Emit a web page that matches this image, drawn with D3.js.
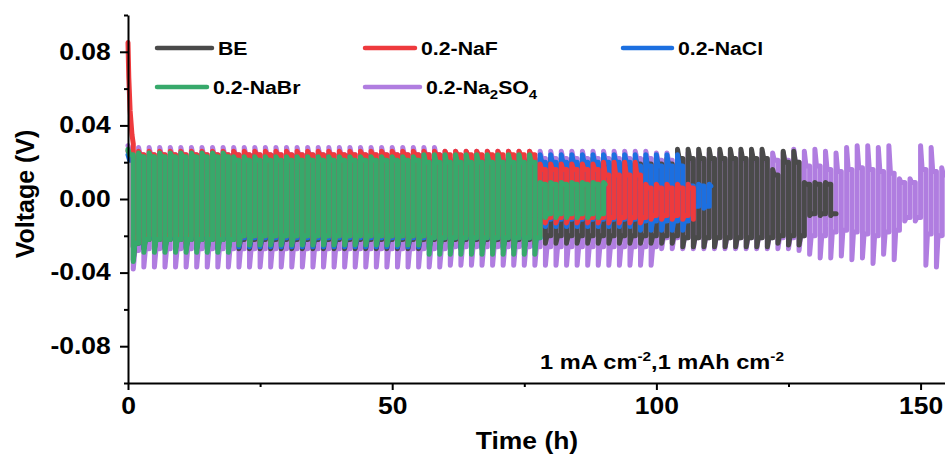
<!DOCTYPE html>
<html>
<head>
<meta charset="utf-8">
<script src="https://cdn.jsdelivr.net/npm/d3@7"></script>
<style>
  body { margin: 0; background: #fff; }
  svg { display: block; font-family: "Liberation Sans", Arial, sans-serif; font-weight: bold; }
</style>
</head>
<body>
<svg id="chart" width="945" height="459"></svg>
<script>
// ---- data ----
// each row covers a run of similar cycles (2 h per cycle: 1 h plating + 1 h stripping)
// [from h, to h, charge peak V, charge plateau V, discharge peak V, discharge plateau V]
const beCycles = [
  [0, 2, 0.026, 0.023, -0.033, -0.024],
  [2, 76, 0.024, 0.021, -0.027, -0.022],
  [76, 104, 0.022, 0.019, -0.024, -0.02],
  [104, 122, 0.027, 0.022, -0.026, -0.021],
  [122, 124, 0.016, 0.013, -0.024, -0.02],
  [124, 128, 0.026, 0.02, -0.025, -0.02],
  [128, 134, 0.009, 0.008, -0.009, -0.008]
]
const nafCycles = [
  [0, 2, 0.03, 0.027, -0.026, -0.021],
  [2, 78, 0.026, 0.024, -0.024, -0.02],
  [78, 90, 0.019, 0.016, -0.013, -0.01],
  [90, 98, 0.02, 0.013, -0.013, -0.01],
  [98, 107, 0.008, 0.006, -0.011, -0.009]
]
// first hour of 0.2-NaF: nucleation spike [h, V]
const nafSpike = [[0, 0.085], [0.15, 0.066], [0.4, 0.048], [0.75, 0.035], [1, 0.03]]
const naclCycles = [
  [0, 78, 0.024, 0.021, -0.026, -0.021],
  [78, 96, 0.024, 0.02, -0.015, -0.011],
  [96, 106, 0.024, 0.018, -0.017, -0.012],
  [106, 110.7, 0.008, 0.007, -0.005, -0.004]
]
const nabrCycles = [
  [0, 2, 0.027, 0.024, -0.034, -0.024],
  [2, 20, 0.025, 0.023, -0.029, -0.022],
  [20, 56, 0.023, 0.021, -0.025, -0.02],
  [56, 78, 0.024, 0.02, -0.03, -0.021],
  [78, 90.3, 0.009, 0.008, -0.01, -0.008]
]
const na2so4Cycles = [
  [0, 2, 0.029, 0.026, -0.038, -0.028],
  [2, 60, 0.028, 0.024, -0.037, -0.027],
  [60, 100, 0.026, 0.022, -0.036, -0.026],
  [100, 126, 0.025, 0.021, -0.027, -0.021],
  [126, 128, 0.027, 0.02, -0.028, -0.02],
  [128, 130, 0.026, 0.018, -0.03, -0.02],
  [130, 132, 0.027, 0.018, -0.032, -0.02],
  [132, 134, 0.026, 0.016, -0.032, -0.018],
  [134, 136, 0.025, 0.015, -0.031, -0.017],
  [136, 138, 0.028, 0.016, -0.033, -0.018],
  [138, 140, 0.029, 0.017, -0.032, -0.019],
  [140, 142, 0.029, 0.016, -0.035, -0.02],
  [142, 144, 0.028, 0.015, -0.03, -0.018],
  [144, 146, 0.029, 0.014, -0.033, -0.017],
  [146, 150, 0.011, 0.009, -0.012, -0.01],
  [150, 152, 0.029, 0.016, -0.036, -0.019],
  [152, 154, 0.028, 0.015, -0.037, -0.02],
  [154, 155, 0.017, 0.013, -0.02, -0.015]
]
const xMajor = [0, 50, 100, 150]
const xMinor = [25, 75, 125]
const yMajor = [-0.08, -0.04, 0, 0.04, 0.08]
const yMinor = [-0.1, -0.06, -0.02, 0.02, 0.06, 0.1]

// ---- layout ----
const svg = d3.select('#chart')
const m = { left: 128, right: 947, top: 15, bottom: 383 }
const x = d3.scaleLinear().domain([0, 155]).range([m.left, m.right])
const y = d3.scaleLinear().domain([-0.1, 0.1]).range([m.bottom, m.top])
const stretch = 1.15

function cycleTrace(rows) {
  const pts = []
  rows.forEach(([t0, t1, upPk, upPl, loPk, loPl]) => {
    d3.range(t0, t1, 2).forEach(c => {
      pts.push([c, upPk], [c + 0.3, upPl], [c + 1, upPl], [c + 1, loPk], [c + 1.3, loPl], [c + 2, loPl])
    })
  })
  const end = rows[rows.length - 1][1]
  return pts.filter(p => p[0] <= end)
}

const traces = [
  { key: '0.2-Na2SO4', color: '#b07de0', pts: cycleTrace(na2so4Cycles) },
  { key: 'BE', color: '#4a4a4a', pts: cycleTrace(beCycles) },
  { key: '0.2-NaCl', color: '#1c6fe0', pts: cycleTrace(naclCycles) },
  { key: '0.2-NaF', color: '#ee3a3d', pts: nafSpike.concat(cycleTrace(nafCycles).slice(3)) },
  { key: '0.2-NaBr', color: '#37a96b', pts: cycleTrace(nabrCycles) }
]

const line = d3.line().x(d => x(d[0])).y(d => y(d[1]))

svg.append('g')
  .selectAll('path')
  .data(traces)
  .join('path')
  .attr('d', d => line(d.pts))
  .attr('fill', 'none')
  .attr('stroke', d => d.color)
  .attr('stroke-width', 5)
  .attr('stroke-linejoin', 'round')
  .attr('stroke-linecap', 'round')

// ---- axes ----
function styleAxis(g) {
  g.selectAll('path, line').attr('stroke', '#000').attr('stroke-width', 2)
  g.selectAll('text').attr('fill', '#000').attr('font-size', 23)
    .attr('font-family', '"Liberation Sans", Arial, sans-serif').attr('font-weight', 'bold')
}

const yAxis = svg.append('g').attr('transform', `translate(${m.left},0)`)
  .call(d3.axisLeft(y).tickValues(yMajor).tickSize(8).tickSizeOuter(0).tickPadding(7)
    .tickFormat(d => d.toFixed(2)))
  .call(styleAxis)
yAxis.selectAll('text').attr('transform', `scale(${stretch},1)`)

svg.append('g').attr('transform', `translate(${m.left},0)`)
  .call(d3.axisLeft(y).tickValues(yMinor).tickSize(4).tickFormat(''))
  .call(styleAxis)
  .call(g => g.select('.domain').remove())

const xAxis = svg.append('g').attr('transform', `translate(0,${m.bottom})`)
  .call(d3.axisBottom(x).tickValues(xMajor).tickSize(7).tickSizeOuter(0).tickPadding(8)
    .tickFormat(d3.format('d')))
  .call(styleAxis)
xAxis.selectAll('text').attr('transform', `scale(${stretch},1)`)

svg.append('g').attr('transform', `translate(0,${m.bottom})`)
  .call(d3.axisBottom(x).tickValues(xMinor).tickSize(4).tickFormat(''))
  .call(styleAxis)
  .call(g => g.select('.domain').remove())

svg.append('text')
  .attr('transform', `translate(527,449) scale(${stretch},1)`)
  .attr('text-anchor', 'middle')
  .attr('font-size', 23)
  .text('Time (h)')

svg.append('text')
  .attr('transform', 'translate(34,194) rotate(-90)')
  .attr('text-anchor', 'middle')
  .attr('font-size', 25)
  .text('Voltage (V)')

// ---- legend ----
const legendItems = [
  { key: 'BE', x: 157, y: 48, len: 55 },
  { key: '0.2-NaF', x: 365, y: 48, len: 50 },
  { key: '0.2-NaCl', x: 623, y: 48, len: 49 },
  { key: '0.2-NaBr', x: 157, y: 87, len: 50 },
  { key: '0.2-Na2SO4', x: 365, y: 87, len: 55 }
]
const colorOf = Object.fromEntries(traces.map(t => [t.key, t.color]))
const leg = svg.append('g').selectAll('g').data(legendItems).join('g')
  .attr('transform', d => `translate(${d.x},${d.y})`)
leg.append('line')
  .attr('x2', d => d.len)
  .attr('stroke', d => colorOf[d.key])
  .attr('stroke-width', 4.5)
  .attr('stroke-linecap', 'round')
const legText = leg.append('text')
  .attr('transform', d => `translate(${d.len + 6},0) scale(${stretch},1)`)
  .attr('dy', '0.36em')
  .attr('font-size', 18.5)
legText.each(function (d) {
  const t = d3.select(this)
  if (d.key === '0.2-Na2SO4') {
    t.append('tspan').text('0.2-Na')
    t.append('tspan').attr('font-size', 13).attr('dy', 5).text('2')
    t.append('tspan').attr('dy', -5).text('SO')
    t.append('tspan').attr('font-size', 13).attr('dy', 5).text('4')
  } else {
    t.text(d.key)
  }
})

// ---- condition note ----
const note = svg.append('text')
  .attr('transform', 'translate(540,369) scale(1.18,1)')
  .attr('font-size', 20)
note.append('tspan').text('1 mA cm')
note.append('tspan').attr('font-size', 13).attr('dy', -8).text('-2')
note.append('tspan').attr('dy', 8).text(',1 mAh cm')
note.append('tspan').attr('font-size', 13).attr('dy', -8).text('-2')
</script>
</body>
</html>
